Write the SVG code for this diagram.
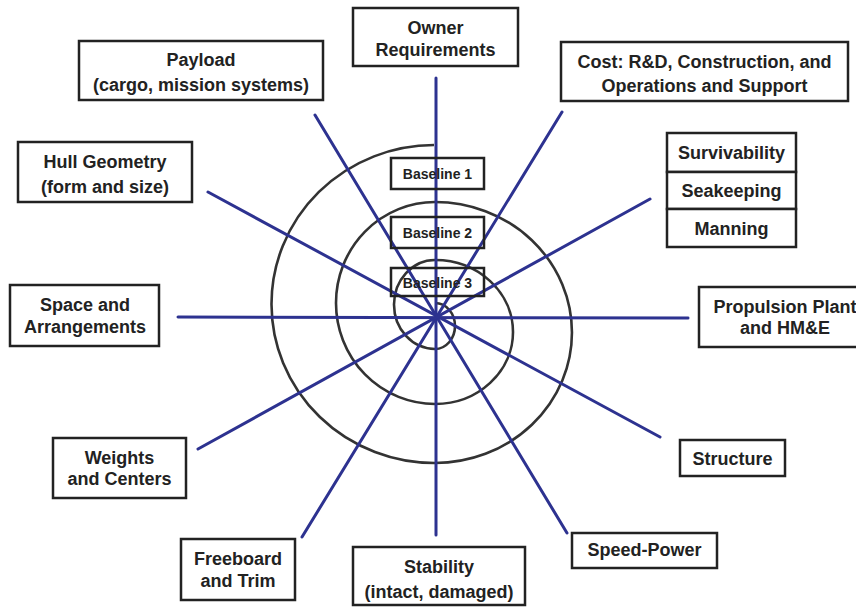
<svg xmlns="http://www.w3.org/2000/svg" width="856" height="608" viewBox="0 0 856 608">
<style>
.box{fill:#fff;stroke:#222;stroke-width:2.5}
.bl{fill:none;stroke:#222;stroke-width:2.5}
.t{font-family:"Liberation Sans",Arial,sans-serif;font-weight:bold;font-size:18px;fill:#222;text-anchor:middle;dominant-baseline:central}
.s{font-size:14px}
.spoke{stroke:#2d3290;stroke-width:3;stroke-linecap:round;fill:none}
.spiral{stroke:#333;stroke-width:2.6;fill:none}
</style>
<rect width="856" height="608" fill="#fff"/>
<path class="spiral" d="M 435 303 A 20 23 0 0 1 435 349 A 41 44.5 0 0 1 435 260 A 78 72 0 0 1 435 404 A 99 101 0 0 1 435 202 A 137 130.5 0 0 1 435 463 A 163 159 0 0 1 434 145"/>
<g id="connectors">
<line class="spoke" x1="436" y1="78" x2="436" y2="535"/>
<line class="spoke" x1="178" y1="317" x2="688" y2="318"/>
<line class="spoke" x1="315" y1="115" x2="567" y2="533"/>
<line class="spoke" x1="208" y1="192" x2="660" y2="437"/>
<line class="spoke" x1="562" y1="112" x2="302" y2="537"/>
<line class="spoke" x1="650" y1="199" x2="198" y2="449"/>
</g>
<g id="baseline1"><rect class="bl" x="391" y="158" width="93" height="31"/><text class="t s" x="437.5" y="174">Baseline 1</text></g>
<g id="baseline2"><rect class="bl" x="391" y="217" width="93" height="31"/><text class="t s" x="437.5" y="233">Baseline 2</text></g>
<g id="baseline3"><rect class="bl" x="391" y="268" width="93" height="28"/><text class="t s" x="437.5" y="283">Baseline 3</text></g>
<g id="owner"><rect class="box" x="353" y="8" width="165" height="58"/><text class="t" x="435.5" y="28">Owner</text><text class="t" x="435.5" y="50">Requirements</text></g>
<g id="payload"><rect class="box" x="79" y="41" width="244" height="59"/><text class="t" x="201" y="60">Payload</text><text class="t" x="201" y="85">(cargo, mission systems)</text></g>
<g id="cost"><rect class="box" x="561" y="42" width="287" height="59"/><text class="t" x="704.5" y="62">Cost: R&amp;D, Construction, and</text><text class="t" x="704.5" y="86">Operations and Support</text></g>
<g id="hull"><rect class="box" x="18" y="142" width="174" height="60"/><text class="t" x="105" y="162">Hull Geometry</text><text class="t" x="105" y="187">(form and size)</text></g>
<g id="survivability"><rect class="box" x="667" y="133" width="129" height="39"/><text class="t" x="731.5" y="153">Survivability</text></g>
<g id="seakeeping"><rect class="box" x="667" y="172" width="129" height="37"/><text class="t" x="731.5" y="191">Seakeeping</text></g>
<g id="manning"><rect class="box" x="667" y="209" width="129" height="38"/><text class="t" x="731.5" y="229">Manning</text></g>
<g id="space"><rect class="box" x="10" y="285" width="149" height="61"/><text class="t" x="85" y="305">Space and</text><text class="t" x="85" y="327">Arrangements</text></g>
<g id="propulsion"><rect class="box" x="699" y="287" width="172" height="60"/><text class="t" x="785" y="307">Propulsion Plant</text><text class="t" x="785" y="328">and HM&amp;E</text></g>
<g id="weights"><rect class="box" x="53" y="438" width="133" height="60"/><text class="t" x="119.5" y="458">Weights</text><text class="t" x="119.5" y="479">and Centers</text></g>
<g id="structure"><rect class="box" x="680" y="440" width="105" height="36"/><text class="t" x="732.5" y="459">Structure</text></g>
<g id="freeboard"><rect class="box" x="181" y="539" width="114" height="61"/><text class="t" x="238" y="559">Freeboard</text><text class="t" x="238" y="581">and Trim</text></g>
<g id="stability"><rect class="box" x="353" y="547" width="172" height="58"/><text class="t" x="439" y="567">Stability</text><text class="t" x="439" y="592">(intact, damaged)</text></g>
<g id="speed"><rect class="box" x="572" y="533" width="145" height="35"/><text class="t" x="644.5" y="550">Speed-Power</text></g>
</svg>
